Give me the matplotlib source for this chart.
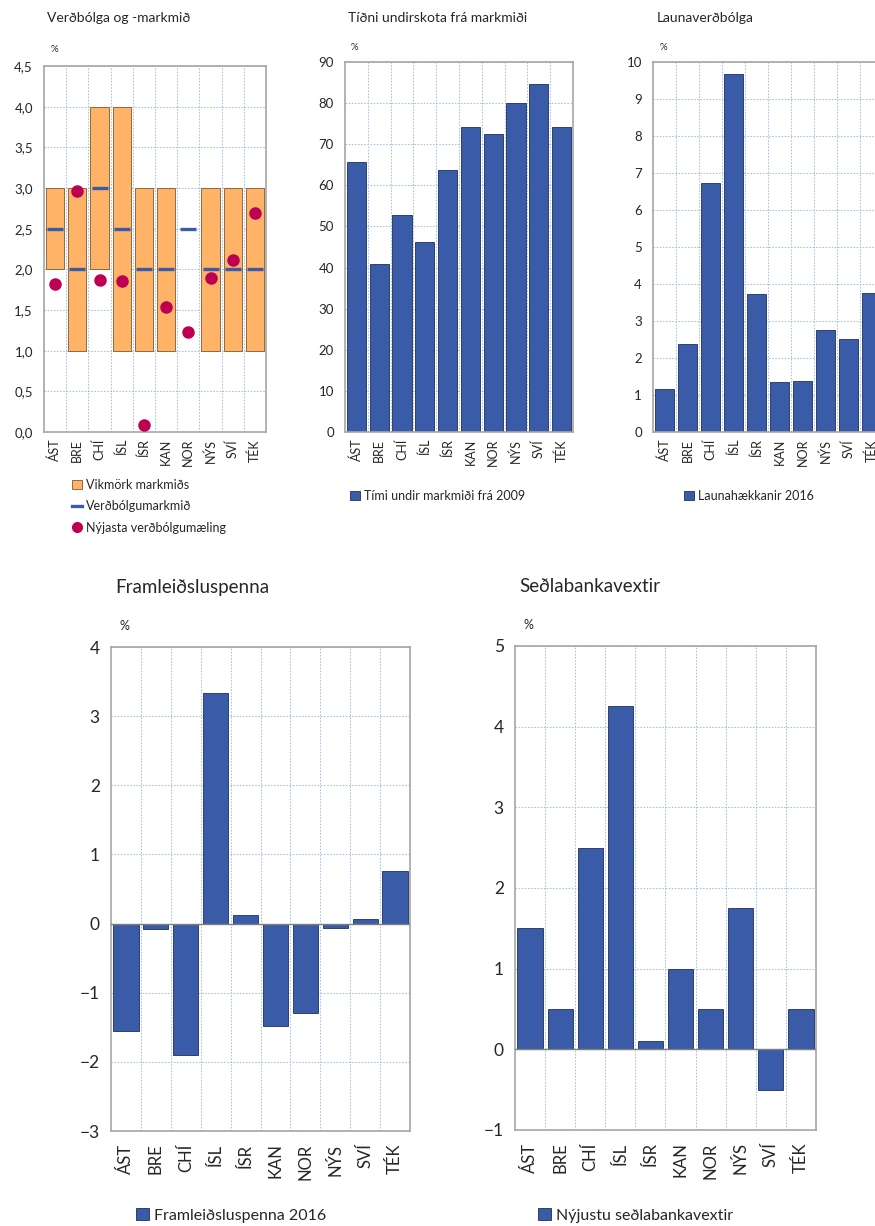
import matplotlib.pyplot as plt
import numpy as np
from matplotlib.ticker import FuncFormatter, FixedLocator
from matplotlib.patches import Patch
from matplotlib.lines import Line2D

plt.rcParams['font.family'] = ['Lato', 'DejaVu Sans']

countries = ['ÁST', 'BRE', 'CHÍ', 'ÍSL', 'ÍSR', 'KAN', 'NOR', 'NÝS', 'SVÍ', 'TÉK']

# Verðbólga og -markmið
band_low = [2.0, 1.0, 2.0, 1.0, 1.0, 1.0, np.nan, 1.0, 1.0, 1.0]
band_high = [3.0, 3.0, 4.0, 4.0, 3.0, 3.0, np.nan, 3.0, 3.0, 3.0]
target = [2.5, 2.0, 3.0, 2.5, 2.0, 2.0, 2.5, 2.0, 2.0, 2.0]
latest_infl = [1.82, 2.96, 1.87, 1.86, 0.09, 1.54, 1.23, 1.89, 2.12, 2.69]

# Tíðni undirskota frá markmiði
undershoot = [65.6, 40.9, 52.7, 46.2, 63.8, 74.1, 72.5, 80.0, 84.7, 74.1]

# Launaverðbólga
wages = [1.16, 2.38, 6.72, 9.68, 3.72, 1.36, 1.39, 2.75, 2.51, 3.77]

# Framleiðsluspenna
output_gap = [-1.56, -0.08, -1.90, 3.33, 0.13, -1.48, -1.30, -0.06, 0.07, 0.76]

# Seðlabankavextir
policy_rate = [1.5, 0.5, 2.5, 4.25, 0.1, 1.0, 0.5, 1.75, -0.5, 0.5]

W, H = 875, 1226
BLUE = '#3A5BA8'
EDGE = '#1F2F5A'
ORANGE = '#FFB366'
DOT = '#BE0052'
GRID = '#A3C1E8'
FRAME = '#A6A6A6'
TXT = '#262626'

fig = plt.figure(figsize=(W / 100, H / 100), dpi=100)


def px_axes(left, top, right, bottom):
    return fig.add_axes([left / W, 1 - bottom / H, (right - left) / W, (bottom - top) / H])


def style(ax, ylim, yticks, ysize, xsize, xpad=5, fmt=None):
    x = np.arange(len(countries))
    ax.set_xlim(-0.5, len(countries) - 0.5)
    ax.set_ylim(*ylim)
    ax.set_yticks(yticks)
    if fmt:
        ax.yaxis.set_major_formatter(FuncFormatter(fmt))
    ax.set_xticks(x)
    ax.set_xticklabels(countries, rotation=90, fontsize=xsize, color=TXT)
    ax.xaxis.set_minor_locator(FixedLocator(x[:-1] + 0.5))
    ax.tick_params(axis='both', which='both', length=0)
    ax.tick_params(axis='y', labelsize=ysize, labelcolor=TXT, pad=8)
    ax.tick_params(axis='x', pad=xpad)
    ax.grid(True, axis='y', which='major', color=GRID, ls=(0, (1.5, 1.5)), lw=0.75)
    ax.grid(True, axis='x', which='minor', color=GRID, ls=(0, (1.5, 1.5)), lw=0.75)
    ax.set_axisbelow(True)
    for s in ax.spines.values():
        s.set_color(FRAME)
        s.set_linewidth(1.2)


def fig_text(x, y, s, size):
    fig.text(x / W, 1 - y / H, s, fontsize=size, color=TXT, ha='left', va='center')


def fig_legend(ax, handles, labels, x, y, size, spacing=0.5):
    ax.legend(handles, labels, loc='upper left', bbox_to_anchor=(x / W, 1 - y / H),
              bbox_transform=fig.transFigure, frameon=False, fontsize=size,
              borderpad=0, borderaxespad=0, handlelength=0.8, handleheight=0.8,
              handletextpad=0.3, labelspacing=spacing, labelcolor=TXT)


x = np.arange(len(countries))

# --- chart 1
ax1 = px_axes(44, 66, 266, 432)
style(ax1, (0, 4.5), np.arange(0, 4.51, 0.5), 9.5, 9,
      fmt=lambda v, p: f'{v:.1f}'.replace('.', ','))
lo = np.array(band_low)
hi = np.array(band_high)
ax1.bar(x, hi - lo, bottom=lo, width=0.82, color=ORANGE, edgecolor='#7F5A2E', lw=0.6, zorder=2)
ax1.plot(x, target, ls='none', marker='_', ms=11.5, mew=2.4, color=BLUE, zorder=3)
ax1.plot(x, latest_infl, ls='none', marker='o', ms=8, color=DOT, zorder=4)
fig_text(47, 18, 'Verðbólga og -markmið', 10)
fig_text(51, 50, '%', 7)
h1 = [Patch(facecolor=ORANGE, edgecolor='#7F5A2E', lw=0.6),
      Line2D([], [], color=BLUE, lw=2.4),
      Line2D([], [], ls='none', marker='o', ms=7, color=DOT)]
fig_legend(ax1, h1, ['Vikmörk markmiðs', 'Verðbólgumarkmið', 'Nýjasta verðbólgumæling'],
           72, 479, 9, spacing=0.75)

# --- chart 2
ax2 = px_axes(345, 62, 573, 432)
style(ax2, (0, 90), np.arange(0, 91, 10), 9.5, 9)
ax2.bar(x, undershoot, width=0.84, color=BLUE, edgecolor=EDGE, lw=0.6, zorder=2)
fig_text(348, 18, 'Tíðni undirskota frá markmiði', 10)
fig_text(351, 47, '%', 7)
fig_legend(ax2, [Patch(facecolor=BLUE, edgecolor=EDGE, lw=0.6)],
           ['Tími undir markmiði frá 2009'], 350, 490, 9)

# --- chart 3 (cut at right edge)
ax3 = px_axes(653, 62, 883, 432)
style(ax3, (0, 10), np.arange(0, 11, 1), 9.5, 9)
ax3.bar(x, wages, width=0.84, color=BLUE, edgecolor=EDGE, lw=0.6, zorder=2)
fig_text(657, 18, 'Launaverðbólga', 10)
fig_text(660, 47, '%', 7)
fig_legend(ax3, [Patch(facecolor=BLUE, edgecolor=EDGE, lw=0.6)],
           ['Launahækkanir 2016'], 684, 490, 9)

# --- chart 4
ax4 = px_axes(111, 647, 410, 1131)
style(ax4, (-3, 4), np.arange(-3, 5, 1), 12.5, 12, xpad=9)
ax4.bar(x, output_gap, width=0.84, color=BLUE, edgecolor=EDGE, lw=0.6, zorder=2)
ax4.axhline(0, color='#7F7F7F', lw=1.0, zorder=3)
fig_text(115, 588, 'Framleiðsluspenna', 13.5)
fig_text(119, 626, '%', 9)
fig_legend(ax4, [Patch(facecolor=BLUE, edgecolor=EDGE, lw=0.6)],
           ['Framleiðsluspenna 2016'], 136, 1208, 11.5)

# --- chart 5
ax5 = px_axes(515, 646, 816, 1130)
style(ax5, (-1, 5), np.arange(-1, 6, 1), 12.5, 12, xpad=9)
ax5.bar(x, policy_rate, width=0.84, color=BLUE, edgecolor=EDGE, lw=0.6, zorder=2)
ax5.axhline(0, color='#7F7F7F', lw=1.0, zorder=3)
fig_text(519, 587, 'Seðlabankavextir', 13.5)
fig_text(523, 625, '%', 9)
fig_legend(ax5, [Patch(facecolor=BLUE, edgecolor=EDGE, lw=0.6)],
           ['Nýjustu seðlabankavextir'], 538, 1208, 11.5)

fig.savefig('out.png', dpi=100)
